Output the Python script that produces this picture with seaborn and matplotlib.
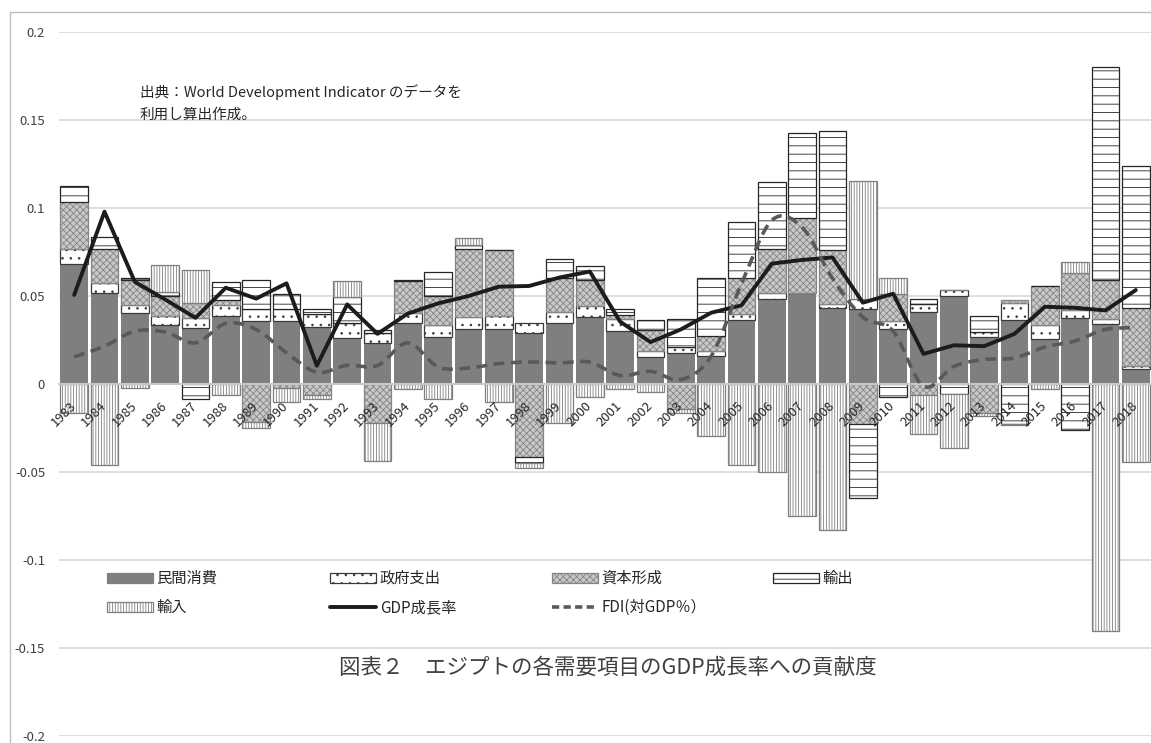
import numpy as np
import seaborn as sns
import matplotlib.pyplot as plt
from matplotlib.lines import Line2D
from matplotlib.patches import Patch, Rectangle, PathPatch
from matplotlib.path import Path
from matplotlib.ticker import FuncFormatter

years = [str(y) for y in range(1983, 2019)]

consumption = [0.0684, 0.0515, 0.0405, 0.0333, 0.0319, 0.0385, 0.0357, 0.0357, 0.0325, 0.0262,
               0.0234, 0.0344, 0.0266, 0.0314, 0.0314, 0.0291, 0.0348, 0.0382, 0.0300, 0.0154,
               0.0177, 0.0158, 0.0363, 0.0485, 0.0519, 0.0429, 0.0424, 0.0310, 0.0411, 0.0500,
               0.0268, 0.0361, 0.0257, 0.0376, 0.0342, 0.0086]
government = [0.0082, 0.0061, 0.0045, 0.0052, 0.0056, 0.0066, 0.0071, 0.0071, 0.0070, 0.0082,
              0.0057, 0.0057, 0.0067, 0.0066, 0.0072, 0.0053, 0.0063, 0.0061, 0.0067, 0.0032,
              0.0034, 0.0028, 0.0032, 0.0034, 0.0000, 0.0023, 0.0061, 0.0047, 0.0045, 0.0034,
              0.0029, 0.0097, 0.0081, 0.0042, 0.0029, 0.0015]
capital = [0.0270, 0.0190, 0.0140, 0.0115, 0.0087, 0.0029, -0.0217, -0.0025, -0.0060, 0.0000,
           -0.0222, 0.0185, 0.0167, 0.0386, 0.0376, -0.0416, 0.0194, 0.0146, 0.0023, 0.0120,
           -0.0143, 0.0089, 0.0209, 0.0247, 0.0427, 0.0310, -0.0226, 0.0156, -0.0061, 0.0000,
           -0.0162, 0.0019, 0.0219, 0.0215, 0.0218, 0.0332]
exports = [0.0091, 0.0067, 0.0014, 0.0020, -0.0084, 0.0102, 0.0162, 0.0081, 0.0033, 0.0152,
           0.0017, 0.0005, 0.0139, 0.0023, 0.0000, -0.0031, 0.0104, 0.0082, 0.0038, 0.0057,
           0.0156, 0.0329, 0.0314, 0.0380, 0.0481, 0.0678, -0.0420, -0.0074, 0.0025, -0.0057,
           0.0089, -0.0225, 0.0000, -0.0264, 0.1214, 0.0808]
imports = [-0.0165, -0.0460, -0.0023, 0.0157, 0.0186, -0.0065, -0.0034, -0.0080, -0.0025, 0.0090,
           -0.0215, -0.0027, -0.0086, 0.0040, -0.0105, -0.0032, -0.0222, -0.0076, -0.0030, -0.0048,
           -0.0022, -0.0295, -0.0460, -0.0498, -0.0751, -0.0827, 0.0670, 0.0088, -0.0224, -0.0308,
           -0.0017, -0.0007, -0.0029, 0.0063, -0.1405, -0.0441]
gdp_growth = [0.0506, 0.0979, 0.0580, 0.0480, 0.0376, 0.0547, 0.0485, 0.0572, 0.0104, 0.0452,
              0.0285, 0.0400, 0.0458, 0.0500, 0.0553, 0.0557, 0.0605, 0.0639, 0.0354, 0.0238,
              0.0310, 0.0405, 0.0447, 0.0684, 0.0705, 0.0719, 0.0462, 0.0513, 0.0171, 0.0220,
              0.0215, 0.0285, 0.0439, 0.0433, 0.0418, 0.0534]
fdi_share = [0.0154, 0.0215, 0.0300, 0.0295, 0.0234, 0.0344, 0.0310, 0.0177, 0.0067, 0.0106,
             0.0105, 0.0234, 0.0097, 0.0091, 0.0116, 0.0125, 0.0120, 0.0124, 0.0048, 0.0072,
             0.0025, 0.0158, 0.0570, 0.0930, 0.0890, 0.0600, 0.0380, 0.0300, -0.0013, 0.0100,
             0.0139, 0.0148, 0.0210, 0.0245, 0.0310, 0.0320]

bar_labels = ['民間消費', '政府支出', '資本形成', '輸出', '輸入']
line_labels = ['GDP成長率', 'FDI(対GDP％）']
title = '図表２　エジプトの各需要項目のGDP成長率への貢献度'
source_note = '出典：World Development Indicator のデータを\n利用し算出作成。'

sns.set_theme(style='white')
plt.rcParams['font.family'] = ['Noto Sans CJK JP', 'DejaVu Sans']
plt.rcParams['hatch.linewidth'] = 0.6
plt.rcParams['axes.unicode_minus'] = False

W, H = 1151, 743
fig = plt.figure(figsize=(W / 100, H / 100), dpi=100)
ax = fig.add_axes([59 / W, 7 / H, 1092 / W, 704 / H])

# bar styles: face, edge, hatch
styles = [
    dict(color='#7f7f7f', edgecolor='#7f7f7f', hatch=None, linewidth=0),
    dict(color='white', edgecolor='#3a3a3a', hatch='..', linewidth=0.9),
    dict(color='#c8c8c8', edgecolor='#858585', hatch='xxxxx', linewidth=0.9),
    dict(color='white', edgecolor='#262626', hatch='--', linewidth=0.9),
    dict(color='white', edgecolor='#7f7f7f', hatch='||||||', linewidth=0.9),
]

pos = np.zeros(len(years))
neg = np.zeros(len(years))
for vals, st in zip([consumption, government, capital, exports, imports], styles):
    v = np.array(vals)
    bottom = np.where(v >= 0, pos, neg)
    sns.barplot(x=years, y=v, bottom=bottom, ax=ax, width=0.92, errorbar=None,
                saturation=1, zorder=2, **st)
    pos += np.clip(v, 0, None)
    neg += np.clip(v, None, 0)

sns.lineplot(x=years, y=gdp_growth, ax=ax, color='#1c1c1c', linewidth=2.8, zorder=4)


# Excel-style smoothed line for FDI
def smooth_path(xs, ys):
    pts = np.column_stack([xs, ys])
    ext = np.vstack([pts[0], pts, pts[-1]])
    verts = [pts[0]]
    codes = [Path.MOVETO]
    for i in range(len(pts) - 1):
        p0, p1, p2, p3 = ext[i], ext[i + 1], ext[i + 2], ext[i + 3]
        verts += [p1 + (p2 - p0) / 6, p2 - (p3 - p1) / 6, p2]
        codes += [Path.CURVE4] * 3
    return Path(verts, codes)


fdi_line = PathPatch(smooth_path(np.arange(len(years)), fdi_share), fill=False,
                     edgecolor='#595959', linewidth=2.6, linestyle=(0, (3, 1.8)), zorder=4)
ax.add_patch(fdi_line)

ax.set_xlim(-0.5, len(years) - 0.5)
ax.set_ylim(-0.2, 0.2)
ax.set_yticks(np.linspace(-0.2, 0.2, 9))
ax.yaxis.set_major_formatter(FuncFormatter(lambda v, _: f'{round(v, 2) + 0.0:g}'))
ax.set_xlabel('')
ax.set_ylabel('')

ax.yaxis.grid(True, color='#d9d9d9', linewidth=1.2)
ax.xaxis.grid(False)
ax.yaxis.set_zorder(0.5)
ax.xaxis.set_zorder(5)
for side in ['left', 'right', 'top']:
    ax.spines[side].set_visible(False)
ax.spines['bottom'].set_position(('data', 0))
ax.spines['bottom'].set_color('#c8c8c8')
ax.spines['bottom'].set_linewidth(1.5)
ax.spines['bottom'].set_zorder(3)

ax.tick_params(axis='y', length=0, pad=10, labelsize=9.5, labelcolor='#404040')
ax.tick_params(axis='x', length=0, pad=14, labelsize=9.5, labelcolor='#262626')
for lbl in ax.get_xticklabels():
    lbl.set_rotation(45)
    lbl.set_ha('right')
    lbl.set_va('center')
    lbl.set_rotation_mode('anchor')

# legend: four columns placed like the Excel layout
handles = [Patch(facecolor=st['color'], edgecolor=st['edgecolor'], hatch=st['hatch'],
                 linewidth=0.9) for st in styles]
handles += [Line2D([], [], color='#1c1c1c', linewidth=2.8),
            Line2D([], [], color='#595959', linewidth=2.6, linestyle=(0, (2, 1.2)))]
labels = bar_labels + line_labels
columns = [([0, 4], 107), ([1, 5], 330), ([2, 6], 552), ([3], 773)]
for idx, x_px in columns:
    leg = fig.legend([handles[i] for i in idx], [labels[i] for i in idx],
                     loc='upper left', bbox_to_anchor=(x_px / W, 1 - 570 / H),
                     frameon=False, fontsize=11, borderpad=0, borderaxespad=0,
                     handlelength=3.0, handleheight=0.65, handletextpad=0.25,
                     labelspacing=0.8)

fig.text(140 / W, 1 - 103 / H, source_note, fontsize=10.5, color='#262626',
         va='center', ha='left', linespacing=1.75)
fig.text(608 / W, 1 - 668 / H, title, fontsize=15.5, color='#404040',
         va='center', ha='center')

fig.add_artist(Rectangle((10 / W, -0.05), 1.2, 1 - 12 / H + 0.05, transform=fig.transFigure,
                         fill=False, edgecolor='#bfbfbf', linewidth=1))

fig.savefig('out.png', dpi=100)
